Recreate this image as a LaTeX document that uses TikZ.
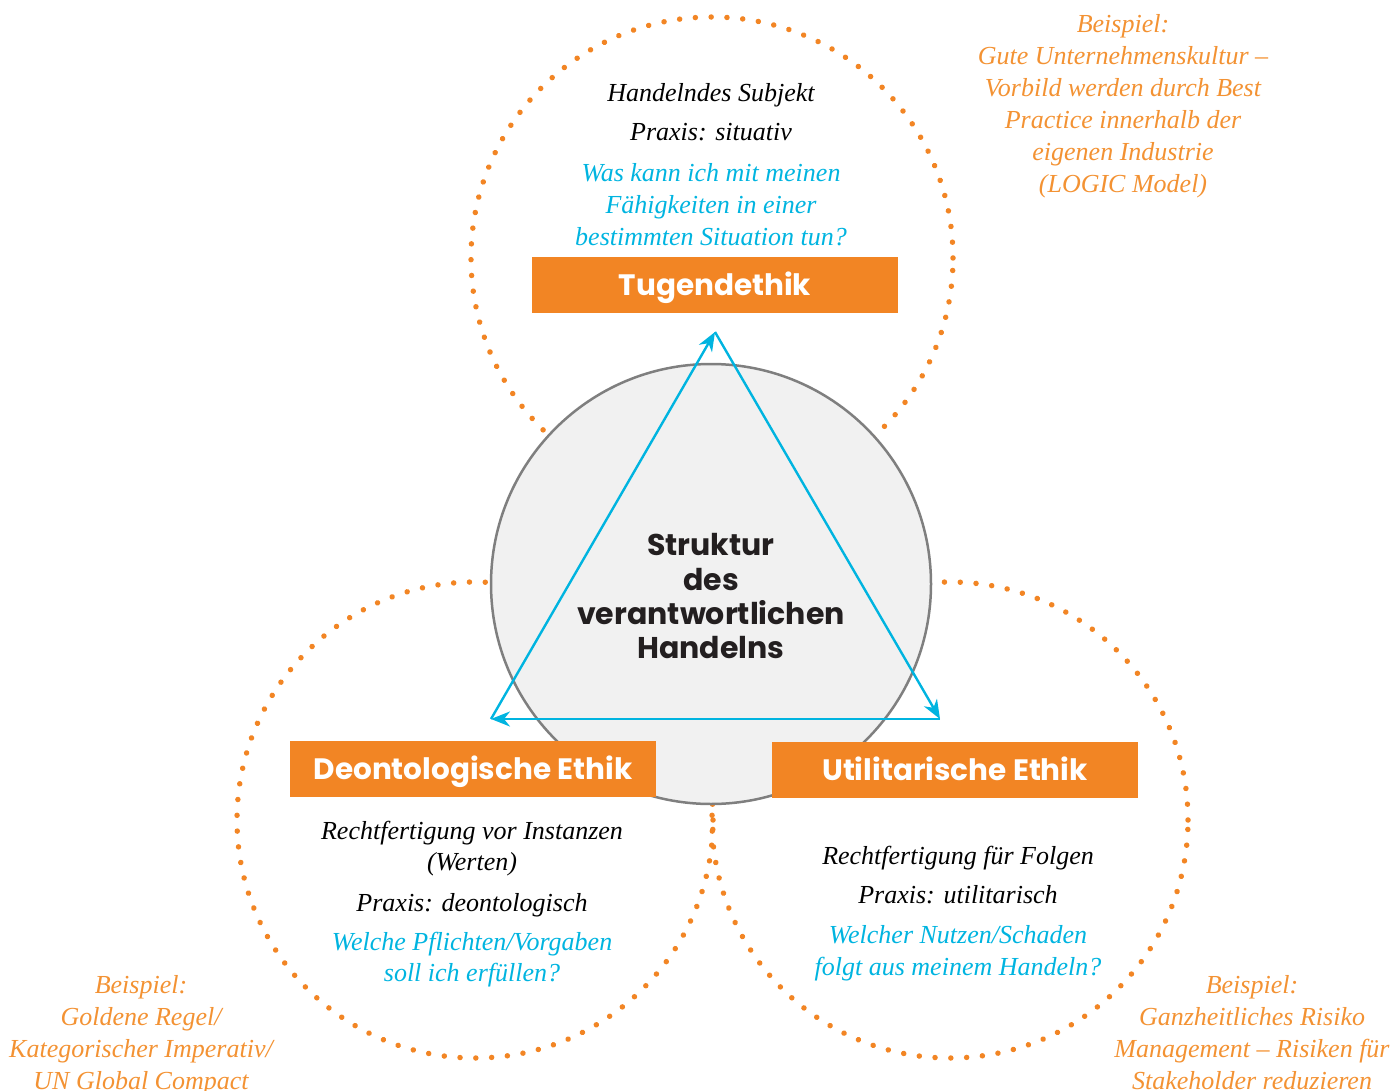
\documentclass[tikz,border=0pt]{standalone}
\usepackage{fontspec}
\setmainfont{Liberation Serif}
\newfontfamily\headfont{Poppins}
\usetikzlibrary{arrows.meta}
\definecolor{boxorange}{HTML}{F28524}
\definecolor{textorange}{HTML}{F39233}
\definecolor{qcyan}{HTML}{00B4E0}
\definecolor{rimgray}{HTML}{7F7F7F}
\definecolor{coregray}{HTML}{F1F1F1}
\definecolor{darktext}{HTML}{231F20}
\tikzset{
  dotring/.style={draw=boxorange, line width=5.5pt, line cap=round,
    dash pattern=on 0.01pt off 15.8pt},
  ethicbox/.style={fill=boxorange, minimum width=366pt, minimum height=56pt,
    inner sep=0pt, text height=20pt, text depth=0pt, text=white,
    font=\headfont\bfseries\fontsize{29.5}{32}\selectfont},
  line/.style={anchor=base, inner sep=0pt, font=\itshape\fontsize{26}{30}\selectfont},
  blackline/.style={line, text=black},
  cyanline/.style={line, text=qcyan},
  exline/.style={line, text=textorange},
  coreline/.style={anchor=base, inner sep=0pt, text=darktext,
    font=\headfont\bfseries\fontsize{30}{34}\selectfont},
  flow/.style={draw=qcyan, line width=2.4pt,
    -{Stealth[length=19pt, width=15pt, inset=6pt]}}
}
\begin{document}
\begin{tikzpicture}[x=1pt, y=-1pt]
\useasboundingbox (0,0) rectangle (1394,1091);

% three dotted rings
\draw[dotring] (712,258) circle[radius=241pt];
\draw[dotring] (475,820) circle[radius=238pt];
\draw[dotring] (950,820) circle[radius=238pt];

% central disc
\node[circle, draw=rimgray, fill=coregray, line width=2.5pt,
      minimum size=440pt, inner sep=0pt] (core) at (711,584) {};

% core title
\node[coreline] (c1) at (711,555) {Struktur};
\node[coreline] (c2) at (711,590) {des};
\node[coreline] (c3) at (711,624) {verantwortlichen};
\node[coreline] (c4) at (711,658) {Handelns};

% triangle of arrows
\coordinate (apex) at (715,332);
\coordinate (bl) at (491,719);
\coordinate (br) at (940,719);
\draw[flow] (bl) -- (apex);
\draw[flow] (apex) -- (br);
\draw[flow] (br) -- (bl);

% orange labels
\node[ethicbox] (tug) at (715,285) {Tugendethik};
\node[ethicbox] (deo) at (473,769) {Deontologische Ethik};
\node[ethicbox] (uti) at (955,770) {Utilitarische Ethik};

% Tugendethik texts
\node[blackline] (t1) at (711,102) {Handelndes Subjekt};
\node[blackline] (t2) at (711,141) {Praxis: situativ};
\node[cyanline] (t3) at (711,182) {Was kann ich mit meinen};
\node[cyanline] (t4) at (711,214) {Fähigkeiten in einer};
\node[cyanline] (t5) at (711,246) {bestimmten Situation tun?};

% Deontologische Ethik texts
\node[blackline] (d1) at (472,839) {Rechtfertigung vor Instanzen};
\node[blackline] (d2) at (472,870) {(Werten)};
\node[blackline] (d3) at (472,911) {Praxis: deontologisch};
\node[cyanline] (d4) at (472,950) {Welche Pflichten/Vorgaben};
\node[cyanline] (d5) at (472,981) {soll ich erfüllen?};

% Utilitarische Ethik texts
\node[blackline] (u1) at (958,864) {Rechtfertigung für Folgen};
\node[blackline] (u2) at (958,903) {Praxis: utilitarisch};
\node[cyanline] (u3) at (958,943) {Welcher Nutzen/Schaden};
\node[cyanline] (u4) at (958,975) {folgt aus meinem Handeln?};

% examples
\node[exline] (e1) at (1123,33) {Beispiel:};
\node[exline] (e2) at (1123,65) {Gute Unternehmenskultur –};
\node[exline] (e3) at (1123,97) {Vorbild werden durch Best};
\node[exline] (e4) at (1123,129) {Practice innerhalb der};
\node[exline] (e5) at (1123,161) {eigenen Industrie};
\node[exline] (e6) at (1123,193) {(LOGIC Model)};

\node[exline] (g1) at (141,993) {Beispiel:};
\node[exline] (g2) at (141,1025) {Goldene Regel/};
\node[exline] (g3) at (141,1057) {Kategorischer Imperativ/};
\node[exline] (g4) at (141,1089) {UN Global Compact};

\node[exline] (r1) at (1252,993) {Beispiel:};
\node[exline] (r2) at (1252,1025) {Ganzheitliches Risiko};
\node[exline] (r3) at (1252,1057) {Management – Risiken für};
\node[exline] (r4) at (1252,1089) {Stakeholder reduzieren};
\end{tikzpicture}
\end{document}
